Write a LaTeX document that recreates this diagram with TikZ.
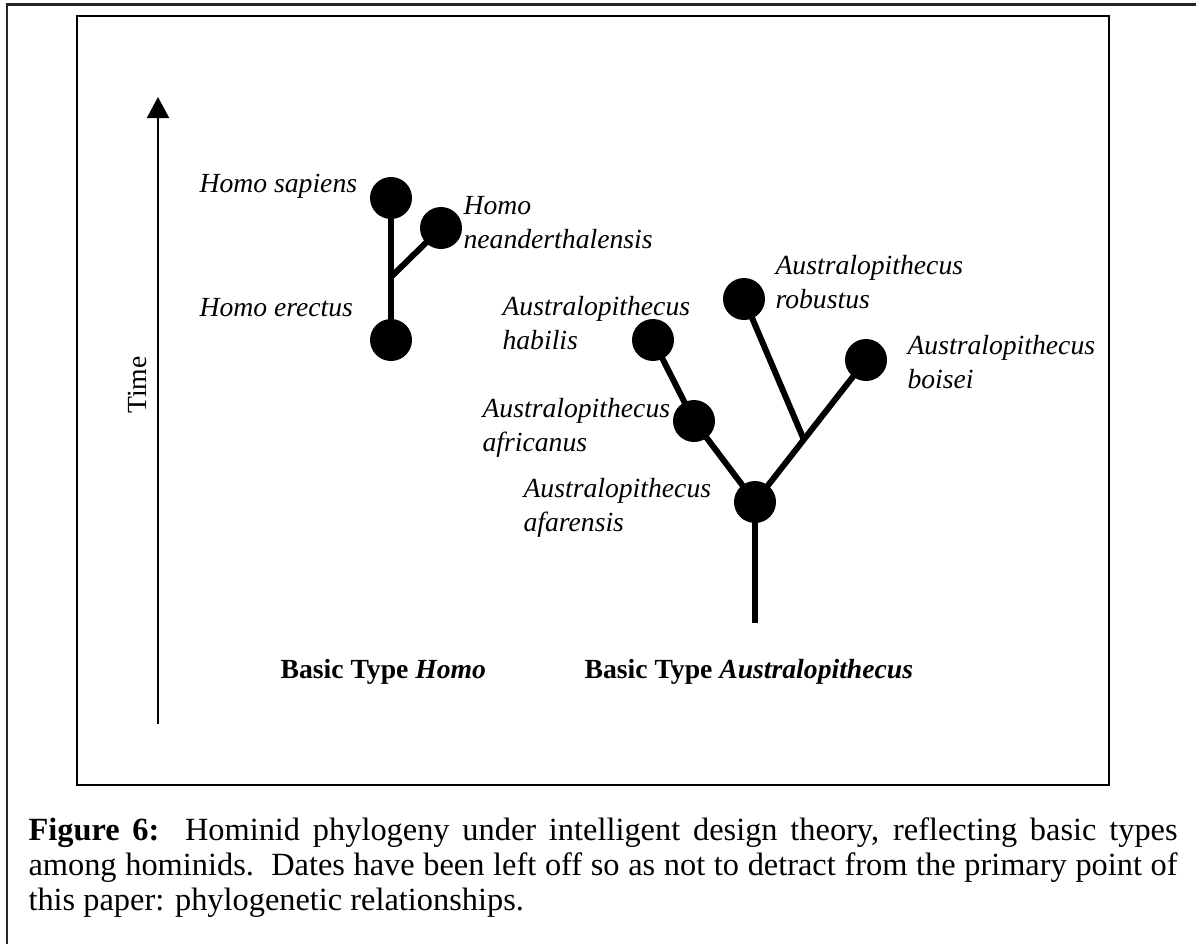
\documentclass[tikz,border=0pt]{standalone}
\usepackage{fontspec}
\setmainfont{Liberation Serif}
\usetikzlibrary{arrows.meta}
\def\pu{0.3614pt}
\newlength\capw
\setlength\capw{415.25pt}
\newcommand{\twoline}[2]{\begin{tabular}[t]{@{}l@{}}#1\\#2\end{tabular}}
\begin{document}
\begin{tikzpicture}[x=\pu, y=-\pu,
  every node/.style={font=\fontsize{10pt}{12.29pt}\selectfont},
  taxon/.style={circle, fill=black, draw=none, minimum size=42*\pu, inner sep=0pt},
  branch/.style={line width=6*\pu},
  lbl/.style={anchor=base west, inner sep=0pt, font=\fontsize{10pt}{12.29pt}\selectfont\itshape},
  caption/.style={anchor=base west, inner sep=0pt, font=\fontsize{11.7pt}{12.65pt}\selectfont},
  frame/.style={line width=2.2*\pu, black}]
\useasboundingbox (0,0) rectangle (1196,943);
\clip (0,0) rectangle (1196,943);
% outer frame (only top and left visible)
\draw[line width=2.8*\pu, black!85] (7,1000) -- (7,4.5) -- (1250,4.5);
% inner box
\draw[frame] (77,16) rectangle (1109,785);
% time axis
\coordinate (tbot) at (158,724);
\coordinate (ttop) at (158,97);
\draw[line width=2*\pu, -{Triangle[width=22*\pu,length=21*\pu]}] (tbot) -- (ttop);
\node[rotate=90] (time) at (137,385) {Time};
% Homo tree
\node[taxon] (hs) at (391,198) {};
\node[taxon] (hn) at (441,228) {};
\node[taxon] (he) at (391,340) {};
\coordinate (hj) at (391,277);
\draw[branch] (hs.center) -- (he.center);
\draw[branch] (hj) -- (hn.center);
% Australopithecus tree
\node[taxon] (ahab) at (653,340) {};
\node[taxon] (aafr) at (694,421) {};
\node[taxon] (aafa) at (755,502) {};
\node[taxon] (arob) at (744,299) {};
\node[taxon] (aboi) at (866,360) {};
\coordinate (aj) at (804,440);
\coordinate (abase) at (755,623);
\draw[branch] (ahab.center) -- (aafr.center) -- (aafa.center);
\draw[branch] (aafa.center) -- (aboi.center);
\draw[branch] (arob.center) -- (aj);
\draw[branch] (abase) -- (aafa.center);
% labels
\node[lbl] (lhs) at (199,192) {Homo sapiens};
\node[lbl] (lhe) at (199,316) {Homo erectus};
\node[lbl] (lhn) at (463,214) {\twoline{Homo}{neanderthalensis}};
\node[lbl] (lhab) at (502,315) {\twoline{Australopithecus}{habilis}};
\node[lbl] (lafr) at (482,417) {\twoline{Australopithecus}{africanus}};
\node[lbl] (lafa) at (523,497) {\twoline{Australopithecus}{afarensis}};
\node[lbl] (lrob) at (775,274) {\twoline{Australopithecus}{robustus}};
\node[lbl] (lboi) at (907,354) {\twoline{Australopithecus}{boisei}};
\node[anchor=base west, inner sep=0pt] (bth) at (280,678) {\textbf{Basic Type \textit{Homo}}};
\node[anchor=base west, inner sep=0pt] (bta) at (584,678) {\textbf{Basic Type \textit{Australopithecus}}};
% caption
\node[caption] (cap1) at (28,840) {\makebox[\capw][s]{\textbf{Figure 6:}\ \ Hominid phylogeny under intelligent design theory, reflecting basic types}};
\node[caption] (cap2) at (28,875) {\makebox[\capw][s]{among hominids.\ \ Dates have been left off so as not to detract from the primary point of}};
\node[caption] (cap3) at (28,910) {this paper: phylogenetic relationships.};
\end{tikzpicture}
\end{document}
